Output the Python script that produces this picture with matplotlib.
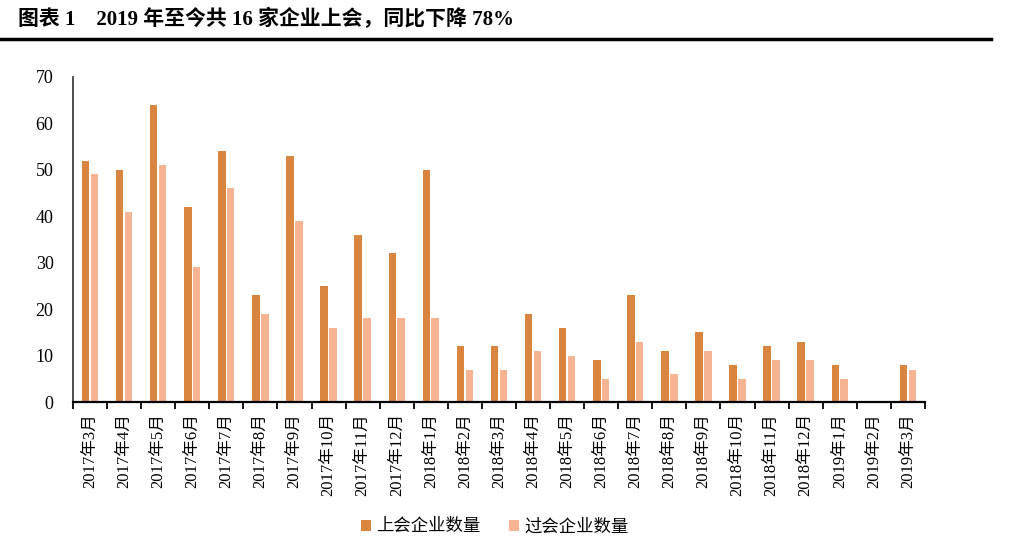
import matplotlib
matplotlib.use("Agg")
import matplotlib.pyplot as plt
import numpy as np

plt.rcParams['font.family'] = ['Liberation Serif', 'Noto Sans CJK SC']

months = ['2017年3月', '2017年4月', '2017年5月', '2017年6月', '2017年7月', '2017年8月',
          '2017年9月', '2017年10月', '2017年11月', '2017年12月', '2018年1月', '2018年2月',
          '2018年3月', '2018年4月', '2018年5月', '2018年6月', '2018年7月', '2018年8月',
          '2018年9月', '2018年10月', '2018年11月', '2018年12月', '2019年1月', '2019年2月',
          '2019年3月']
shanghui = [52, 50, 64, 42, 54, 23, 53, 25, 36, 32, 50, 12, 12, 19, 16, 9, 23, 11, 15, 8, 12, 13, 8, 0, 8]
guohui = [49, 41, 51, 29, 46, 19, 39, 16, 18, 18, 18, 7, 7, 11, 10, 5, 13, 6, 11, 5, 9, 9, 5, 0, 7]

c_dark = '#D9843F'
c_light = '#F7B493'

fig = plt.figure(figsize=(10.09, 5.44), dpi=100)
ax = fig.add_axes([0.0723, 0.261, 0.8444, 0.5975])

x = np.arange(len(months))
w = 0.22
ax.bar(x - 0.13, shanghui, w, color=c_dark, label='上会企业数量')
ax.bar(x + 0.13, guohui, w, color=c_light, label='过会企业数量')

ax.set_xlim(-0.5, len(months) - 0.5)
ax.set_ylim(0, 70)
ax.set_yticks(range(0, 71, 10))
ax.tick_params(axis='y', length=0, labelsize=13, pad=14)

ax.set_xticks(x)
ax.set_xticklabels(months, rotation=90, fontsize=12)
ax.tick_params(axis='x', which='major', length=0, pad=8)
ax.set_xticks(np.arange(-0.5, len(months), 1), minor=True)
ax.tick_params(axis='x', which='minor', length=5, width=1.3, color='black', direction='out')

for s in ['top', 'right']:
    ax.spines[s].set_visible(False)
ax.spines['left'].set_color('#404040')
ax.spines['left'].set_linewidth(1.3)
ax.spines['bottom'].set_color('black')
ax.spines['bottom'].set_linewidth(1.6)

ax.legend(loc='center', bbox_to_anchor=(0.495, -0.385), ncol=2, frameon=False,
          fontsize=12.5, handlelength=0.6, handleheight=0.6, handletextpad=0.3,
          columnspacing=1.6)

fig.text(0.018, 0.965, '图表 1    2019 年至今共 16 家企业上会，同比下降 78%',
         fontsize=15, fontweight='bold', ha='left', va='center')
fig.add_artist(plt.Line2D([0.0, 0.982], [0.929, 0.929], color='black', linewidth=2.5,
                          transform=fig.transFigure))

fig.savefig('out.png', dpi=100)
